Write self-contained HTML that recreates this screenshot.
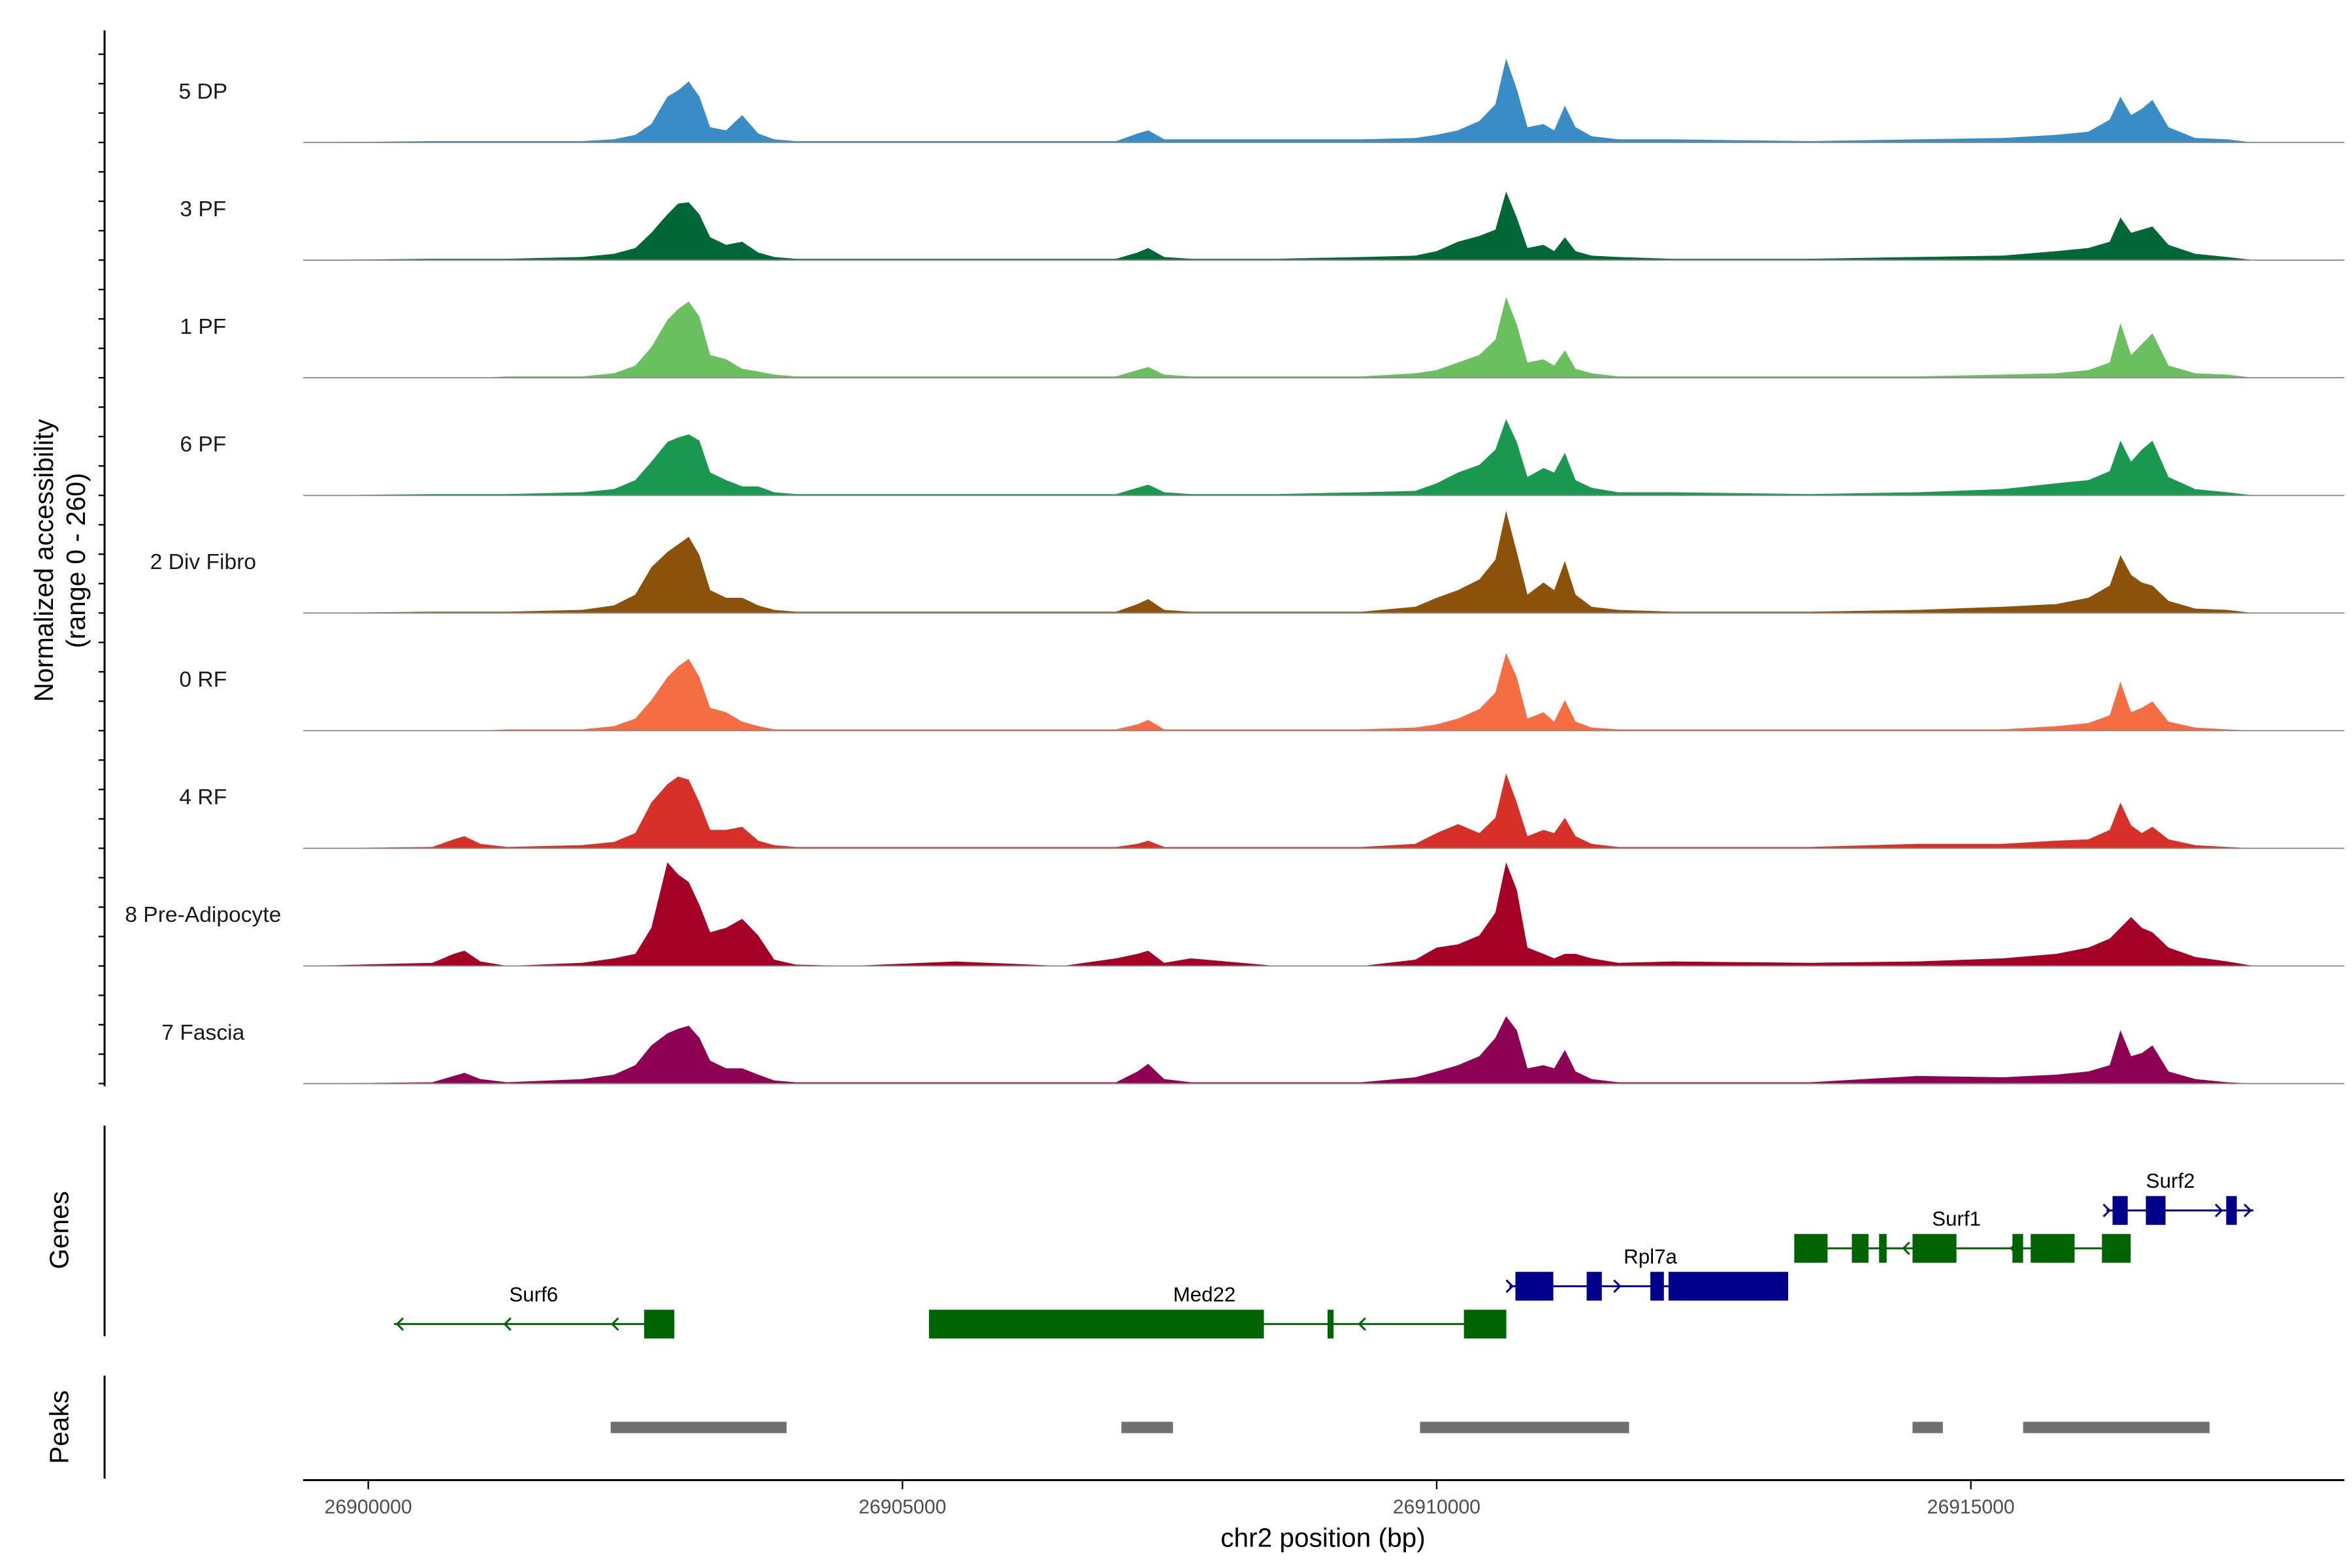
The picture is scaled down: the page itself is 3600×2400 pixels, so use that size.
<!DOCTYPE html>
<html><head><meta charset="utf-8"><style>
html,body{margin:0;padding:0;background:#fff;}
svg{display:block;font-family:"Liberation Sans",Arial,sans-serif;}
</style></head><body>
<svg id="chart" width="3600" height="2400" viewBox="0 0 1552 1035" preserveAspectRatio="none" xmlns="http://www.w3.org/2000/svg">
<rect x="0" y="0" width="1552" height="1035" fill="#fff"/>
<g id="tracks"></g>
<g id="genes"></g>
<g id="peaks"></g>
<g id="axes"></g>
</svg>
<script>
const positions=[26899400,26900600,26900800,26900900,26901050,26901300,26902000,26902300,26902500,26902650,26902800,26902900,26903000,26903100,26903200,26903350,26903500,26903650,26903800,26904000,26904500,26905500,26906500,26907000,26907200,26907300,26907450,26907700,26908500,26909300,26909800,26910000,26910200,26910400,26910550,26910650,26910750,26910850,26911000,26911100,26911200,26911300,26911450,26911700,26912200,26913500,26914500,26915300,26915800,26916100,26916300,26916400,26916500,26916600,26916700,26916850,26917100,26917400,26917650];
const trackNames=["5 DP","3 PF","1 PF","6 PF","2 Div Fibro","0 RF","4 RF","8 Pre-Adipocyte","7 Fascia"];
const trackColors=["#3a8cc4","#006837","#6abf5e","#1a9850","#8c510a","#f46d43","#d73027","#a50026","#8e0152"];
const valsDP=[0,3,3,3,3,3,3,7,17,41,102,116,136,102,34,27,61,20,7,3,3,3,3,3,20,27,7,7,7,7,10,17,27,48,85,187,119,34,41,27,82,34,14,7,7,3,7,10,17,24,51,102,61,75,95,34,10,7,0];
const valsPF3=[0,3,3,3,3,3,7,14,27,61,102,126,129,102,51,34,41,17,7,3,3,3,3,3,17,27,7,3,3,7,10,20,41,54,68,153,95,27,34,20,51,20,10,7,3,3,7,10,20,27,41,95,61,68,75,34,14,7,0];
const valsPF1=[0,0,0,0,0,3,3,10,27,68,129,153,170,136,51,41,20,14,7,3,3,3,3,3,17,24,7,3,3,3,10,17,34,51,85,180,119,34,41,27,61,20,10,3,3,3,3,7,10,17,34,122,51,75,99,27,10,7,0];
const valsPF6=[0,3,3,3,3,3,7,14,34,75,119,129,136,122,51,34,20,20,7,3,3,3,3,3,17,24,7,3,3,7,10,27,51,68,102,170,119,41,61,51,95,34,17,7,7,3,7,14,27,34,54,122,75,102,122,41,14,7,0];
const valsDiv=[0,3,3,3,3,3,7,17,41,102,136,153,170,129,51,34,34,17,7,3,3,3,3,3,20,31,7,3,3,3,14,34,51,75,119,228,136,41,68,51,116,41,14,7,3,3,7,14,20,34,61,129,85,68,61,27,10,7,0];
const valsRF0=[0,0,0,0,0,3,3,10,27,68,119,143,160,119,51,41,20,10,3,3,3,3,3,3,14,24,3,3,3,3,7,14,27,48,85,173,119,27,41,20,68,20,7,3,3,3,3,3,10,17,34,109,41,51,65,20,7,3,0];
const valsRF4=[0,3,20,27,10,3,7,14,34,102,143,160,153,102,41,41,48,17,7,3,3,3,3,3,10,17,3,3,3,3,10,34,54,34,68,167,102,27,41,34,68,27,10,3,3,3,10,10,17,20,41,102,51,34,48,20,7,3,0];
const valsPA8=[0,7,27,34,10,0,7,17,27,85,231,204,187,136,75,85,105,68,14,3,0,10,0,17,27,34,7,17,0,0,14,41,48,68,119,231,170,41,27,17,27,27,17,7,10,7,10,17,27,41,61,85,109,85,75,41,20,10,0];
const valsFas=[0,3,17,24,10,3,10,20,41,85,112,122,129,102,51,34,34,20,7,3,3,3,3,3,27,44,10,3,3,3,14,27,41,61,102,150,119,34,41,34,75,27,10,3,3,3,17,14,20,27,41,119,61,68,85,27,10,3,0];
const trackValues=[valsDP,valsPF3,valsPF1,valsPF6,valsDiv,valsRF0,valsRF4,valsPA8,valsFas];
const xTicks=[26900000,26905000,26910000,26915000];
const xTickLabels=["26900000","26905000","26910000","26915000"];
const yRangeMax=260;
// genes: [name, strand, lineStart, lineEnd, exons, arrows, row, color]
const geneNames=["Surf6","Med22","Rpl7a","Surf1","Surf2"];
const geneStrands=["-","-","+","-","+"];
const geneSpans=[[26900241,26902865],[26905248,26910652],[26910681,26913290],[26913347,26916496],[26916269,26917645]];
const geneExons=[[[26902582,26902865]],[[26905248,26908383],[26908979,26909035],[26910255,26910652]],[[26910737,26911092],[26911404,26911546],[26912000,26912127],[26912170,26913290]],[[26913347,26913659],[26913886,26914042],[26914141,26914212],[26914454,26914865],[26915389,26915489],[26915560,26915971],[26916227,26916496]],[[26916326,26916468],[26916638,26916822],[26917390,26917489]]];
const geneArrows=[[26900270,26901277,26902284],[26909276],[26910709,26911716],[26914369,26915376],[26916298,26917347,26917617]];
const geneLabelPos=[26901548,26907826,26912000,26914865,26916868];
const geneRows=[0,0,1,2,3];
const geneColors=["#006400","#006400","#00008b","#006400","#00008b"];
const peakStarts=[26902269,26907049,26909844,26914454,26915489];
const peakEnds=[26903915,26907532,26911801,26914738,26917234];

const NS="http://www.w3.org/2000/svg";
function el(tag,attrs,parent){const e=document.createElementNS(NS,tag);for(const k in attrs)e.setAttribute(k,attrs[k]);parent.appendChild(e);return e;}
function xScale(bp){return 243+(bp-26900000)*0.0705;}
const trackTop=16.4, trackH=77.65;
function yScale(v,i){const base=trackTop+(i+1)*trackH;return base-v/yRangeMax*77;}

const gT=document.getElementById('tracks');
trackValues.forEach((vals,i)=>{
  const base=trackTop+(i+1)*trackH;
  const g=el('g',{},gT);
  
  
  let d='M'+xScale(positions[0])+','+base;
  vals.forEach((v,j)=>{d+=' L'+xScale(positions[j]).toFixed(2)+','+yScale(v,i).toFixed(2);});
  d+=' L'+xScale(positions[positions.length-1])+','+base+' Z';
  const p=el('path',{d:d,fill:trackColors[i],stroke:'none'},g);
  
  
  const bl=el('line',{x1:200,x2:1547,y1:base,y2:base,stroke:'#8a8a8a','stroke-width':0.8},g);
  
  
  const t=el('text',{x:134,y:base-29,'text-anchor':'middle','font-size':14.5,fill:'#1a1a1a'},g);
  t.textContent=trackNames[i];
  
  
});

const gG=document.getElementById('genes');
const rowY=[874,849,824,799];
geneNames.forEach((n,i)=>{
  const y=rowY[geneRows[i]], c=geneColors[i];
  const g=el('g',{},gG);
  
  
  el('line',{x1:xScale(geneSpans[i][0]),x2:xScale(geneSpans[i][1]),y1:y,y2:y,stroke:c,'stroke-width':1.3},g);
  geneExons[i].forEach(e=>{
    const r=el('rect',{x:xScale(e[0]),y:y-9.5,width:Math.max(2,xScale(e[1])-xScale(e[0])),height:19,fill:c},g);
    
    
  });
  geneArrows[i].forEach(a=>{
    const x=xScale(a), s=geneStrands[i]==='+'?-1:1;
    el('polyline',{points:(x+4*s)+','+(y-4)+' '+x+','+y+' '+(x+4*s)+','+(y+4),fill:'none',stroke:c,'stroke-width':1.3},g);
  });
  const t=el('text',{x:xScale(geneLabelPos[i]),y:y-15,'text-anchor':'middle','font-size':13.5,fill:'#000'},g);
  t.textContent=n;
  
  
});

const gP=document.getElementById('peaks');
peakStarts.forEach((s,i)=>{
  const r=el('rect',{x:xScale(s),y:938.5,width:xScale(peakEnds[i])-xScale(s),height:7.5,fill:'#707070'},gP);
  
  
});

const gA=document.getElementById('axes');
function line(x1,y1,x2,y2,name,w){const l=el('line',{x1:x1,y1:y1,x2:x2,y2:y2,stroke:'#000','stroke-width':w||1.3},gA);return l;}
line(69,20,69,717,'y-axis-line');
for(let y=trackTop+trackH/4*0+19.4;y<716;y+=trackH/4){line(65,y,69,y,'y-tick',1);}
line(69,743,69,882,'genes-axis-line');
line(69,908,69,976,'peaks-axis-line');
line(200,977,1547,977,'x-axis-line');
xTicks.forEach((t,i)=>{
  const x=xScale(t);
  line(x,977,x,983,'x-tick',1);
  const tx=el('text',{x:x,y:999,'text-anchor':'middle','font-size':13,fill:'#4d4d4d'},gA);
  tx.textContent=xTickLabels[i];
  
  
});
function txt(s,x,y,size,rot,name){const t=el('text',{x:x,y:y,'text-anchor':'middle','font-size':size,fill:'#000'},gA);if(rot)t.setAttribute('transform','rotate(-90 '+x+' '+y+')');t.textContent=s;}
txt('chr2 position (bp)',873,1021,17.5,false,'x-axis-title');
txt('Normalized accessibility',35,370,17.5,true,'y-axis-title');
txt('(range 0 - 260)',56,370,17.5,true,'y-axis-range');
txt('Genes',45,812,17.5,true,'genes-axis-title');
txt('Peaks',45,942,17.5,true,'peaks-axis-title');
</script>
</body></html>
